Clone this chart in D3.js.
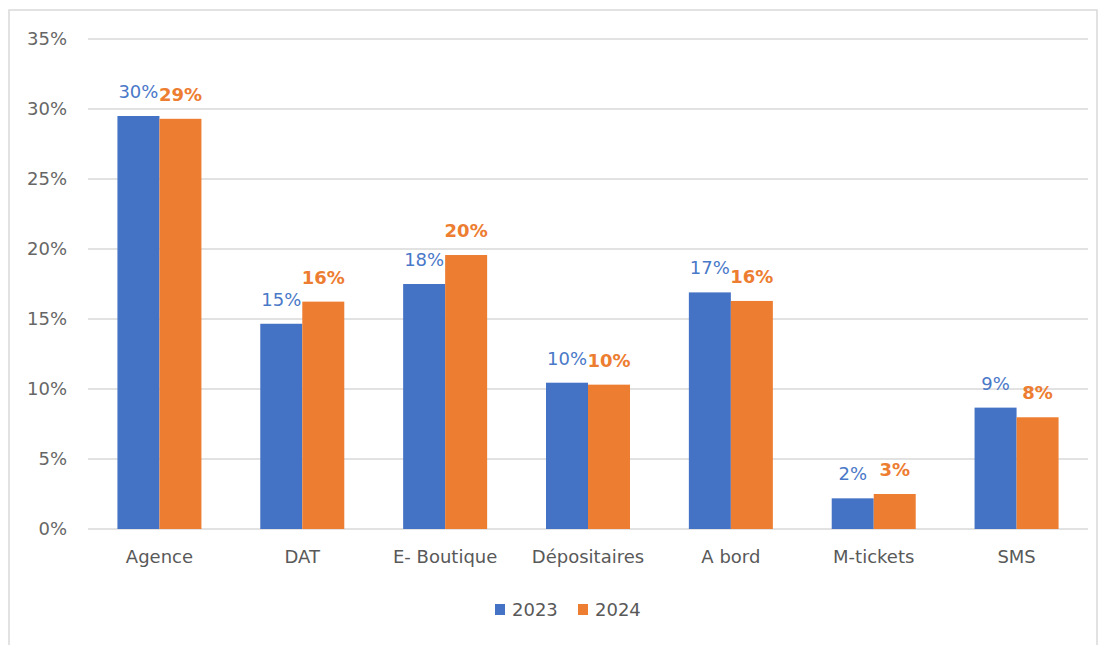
<!DOCTYPE html>
<html>
<head>
<meta charset="utf-8">
<script src="https://cdn.jsdelivr.net/npm/d3@7"></script>
<style>
  body { margin: 0; background: #fff; }
  text { font-family: "DejaVu Sans", sans-serif; }
</style>
</head>
<body>
<div id="chart"></div>
<script>
// canaux de vente, parts 2023 / 2024
const categories = ["Agence", "DAT", "E- Boutique", "Dépositaires", "A bord", "M-tickets", "SMS"];
const series = ["2023", "2024"];
const values2023 = [29.5, 14.66, 17.5, 10.45, 16.9, 2.19, 8.67];
const values2024 = [29.3, 16.24, 19.57, 10.31, 16.29, 2.5, 7.98];
const yTicks = [0, 5, 10, 15, 20, 25, 30, 35];
const colors = ["#4472C4", "#ED7D31"];
const labelColors = ["#4a78c8", "#ED7D31"];

const width = 1106, height = 645;
const margin = {left: 88, right: 18, top: 39, bottom: 116};

const svg = d3.select("#chart").append("svg")
    .attr("width", width)
    .attr("height", height);

// cadre du graphique
svg.append("rect")
    .attr("x", 9).attr("y", 10)
    .attr("width", 1088).attr("height", 660)
    .attr("fill", "none")
    .attr("stroke", "#d9d9d9")
    .attr("stroke-width", 1.5);

const x0 = d3.scaleBand()
    .domain(categories)
    .range([margin.left, width - margin.right])
    .paddingInner(0.412)
    .paddingOuter(0.206);

const x1 = d3.scaleBand()
    .domain(series)
    .range([0, x0.bandwidth()]);

const y = d3.scaleLinear()
    .domain([0, 35])
    .range([height - margin.bottom, margin.top]);

// grille
svg.append("g")
    .selectAll("line")
    .data(yTicks)
    .enter().append("line")
    .attr("x1", margin.left)
    .attr("x2", width - margin.right)
    .attr("y1", d => y(d))
    .attr("y2", d => y(d))
    .attr("stroke", "#d9d9d9")
    .attr("stroke-width", 1.3);

// axe y
const yAxis = svg.append("g")
    .attr("transform", `translate(${margin.left},0)`)
    .call(d3.axisLeft(y).tickValues(yTicks).tickFormat(d => d + "%").tickSize(0).tickPadding(21));
yAxis.select(".domain").remove();
yAxis.selectAll("text")
    .attr("fill", "#666")
    .style("font-size", "18px")
    .style("font-family", "DejaVu Sans, sans-serif");

// axe x
const xAxis = svg.append("g")
    .attr("transform", `translate(0,${y(0)})`)
    .call(d3.axisBottom(x0).tickSize(0).tickPadding(21));
xAxis.select(".domain").remove();
xAxis.selectAll("text")
    .attr("fill", "#595959")
    .style("font-size", "18px")
    .style("font-family", "DejaVu Sans, sans-serif");

const data = categories.map((c, i) => ({
    cat: c,
    vals: [
        {s: "2023", v: values2023[i], k: 0},
        {s: "2024", v: values2024[i], k: 1}
    ]
}));

const groups = svg.append("g")
    .selectAll("g")
    .data(data)
    .enter().append("g")
    .attr("transform", d => `translate(${x0(d.cat)},0)`);

groups.selectAll("rect")
    .data(d => d.vals)
    .enter().append("rect")
    .attr("x", d => x1(d.s))
    .attr("y", d => y(d.v))
    .attr("width", x1.bandwidth())
    .attr("height", d => y(0) - y(d.v))
    .attr("fill", d => colors[d.k]);

groups.selectAll("text.lbl")
    .data(d => d.vals)
    .enter().append("text")
    .attr("class", "lbl")
    .attr("x", d => x1(d.s) + x1.bandwidth() / 2)
    .attr("y", d => y(d.v) - 18)
    .attr("text-anchor", "middle")
    .attr("fill", d => labelColors[d.k])
    .style("font-size", "18px")
    .style("font-weight", d => d.k === 1 ? "bold" : "normal")
    .text(d => Math.round(d.v) + "%");

// legende
const legend = svg.append("g").attr("transform", "translate(495,610)");
const li = legend.selectAll("g")
    .data(series)
    .enter().append("g")
    .attr("transform", (d, i) => `translate(${i * 83},0)`);
li.append("rect")
    .attr("x", 0).attr("y", -6)
    .attr("width", 10).attr("height", 11)
    .attr("fill", (d, i) => colors[i]);
li.append("text")
    .attr("x", 17).attr("y", 6)
    .attr("fill", "#595959")
    .style("font-size", "18px")
    .text(d => d);
</script>
</body>
</html>
